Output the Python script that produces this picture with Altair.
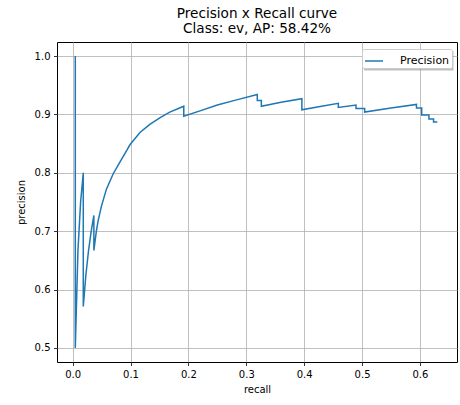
import altair as alt
import pandas as pd

# Precision/recall pairs, in drawing order
recall = [0.0046, 0.0046, 0.0092, 0.0138, 0.0184, 0.0184, 0.0229, 0.0275, 0.0321, 0.0367,
          0.0367, 0.041, 0.0441, 0.0498, 0.0584, 0.0699, 0.0814, 0.0945, 0.099, 0.1163,
          0.1334, 0.1506, 0.1678, 0.192, 0.192, 0.22, 0.25, 0.28, 0.319, 0.319,
          0.326, 0.326, 0.36, 0.396, 0.396, 0.43, 0.459, 0.459, 0.4895, 0.4895,
          0.5045, 0.5045, 0.55, 0.594, 0.594, 0.603, 0.603, 0.6155, 0.6155, 0.6235,
          0.6235, 0.630]
precision = [1.0, 0.5, 0.667, 0.75, 0.8, 0.571, 0.625, 0.667, 0.70, 0.727,
             0.667, 0.700, 0.718, 0.743, 0.772, 0.798, 0.818, 0.840, 0.848, 0.869,
             0.883, 0.894, 0.904, 0.914, 0.897, 0.906, 0.916, 0.924, 0.934, 0.924,
             0.924, 0.914, 0.921, 0.927, 0.908, 0.914, 0.919, 0.912, 0.916, 0.910,
             0.910, 0.904, 0.911, 0.917, 0.911, 0.911, 0.899, 0.899, 0.892, 0.892,
             0.887, 0.887]

x_ticks = [0.0, 0.1, 0.2, 0.3, 0.4, 0.5, 0.6]
y_ticks = [0.5, 0.6, 0.7, 0.8, 0.9, 1.0]

df = pd.DataFrame({
    "step": list(range(len(recall))),
    "recall": recall,
    "precision": precision,
    "series": ["Precision"] * len(recall),
})

FONT = "DejaVu Sans"

# Legend box placement inside the plot area (pixels from the top-left corner)
LEG_X, LEG_Y = 305, 7
LEG_W, LEG_H = 89.5, 19.5
SHADOW = 2

# Drop shadow sitting just behind the legend box
shadow = alt.Chart(pd.DataFrame({"s": [0]})).mark_rect(
    color="#808080", opacity=0.5
).encode(
    x=alt.value(LEG_X + SHADOW), x2=alt.value(LEG_X + LEG_W + SHADOW),
    y=alt.value(LEG_Y + SHADOW), y2=alt.value(LEG_Y + LEG_H + SHADOW),
)

curve = alt.Chart(df).mark_line(strokeWidth=1.5, clip=True).encode(
    x=alt.X("recall:Q",
            scale=alt.Scale(domain=[-0.027, 0.664], nice=False, zero=False),
            axis=alt.Axis(values=x_ticks, format=".1f", title="recall",
                          titlePadding=5)),
    y=alt.Y("precision:Q",
            scale=alt.Scale(domain=[0.476, 1.024], nice=False, zero=False),
            axis=alt.Axis(values=y_ticks, format=".1f", title="precision",
                          titlePadding=8)),
    order="step:Q",
    color=alt.Color("series:N",
                    scale=alt.Scale(range=["#1f77b4"]),
                    legend=alt.Legend(title=None, orient="none",
                                      legendX=LEG_X, legendY=LEG_Y,
                                      symbolType="stroke", symbolSize=324,
                                      symbolStrokeWidth=1.5,
                                      labelFontSize=11, labelColor="#000000",
                                      padding=2, labelOffset=16,
                                      fillColor="white", strokeColor="#cccccc",
                                      cornerRadius=2)),
)

chart = alt.layer(shadow, curve).properties(
    width=400,
    height=320,
    title=alt.Title(["Precision x Recall curve", "Class: ev, AP: 58.42%"],
                    fontSize=13.6, fontWeight="normal", font=FONT,
                    color="#000000", anchor="middle", offset=6, lineHeight=15),
    autosize=alt.AutoSizeParams(type="none"),
    padding={"left": 57, "top": 42, "right": 3, "bottom": 43},
).configure(
    font=FONT,
).configure_view(
    stroke="#000000", strokeWidth=1,
).configure_axis(
    grid=True, gridColor="#b0b0b0", gridWidth=0.8,
    domain=False,
    tickColor="#000000", tickSize=3.5, tickWidth=0.8,
    labelFontSize=10, labelColor="#000000", labelPadding=3.5,
    titleFontSize=10, titleFontWeight="normal", titleColor="#000000",
).configure_legend(
    labelFont=FONT,
)

chart.save("out.html", embed_options={"renderer": "svg", "actions": False})
